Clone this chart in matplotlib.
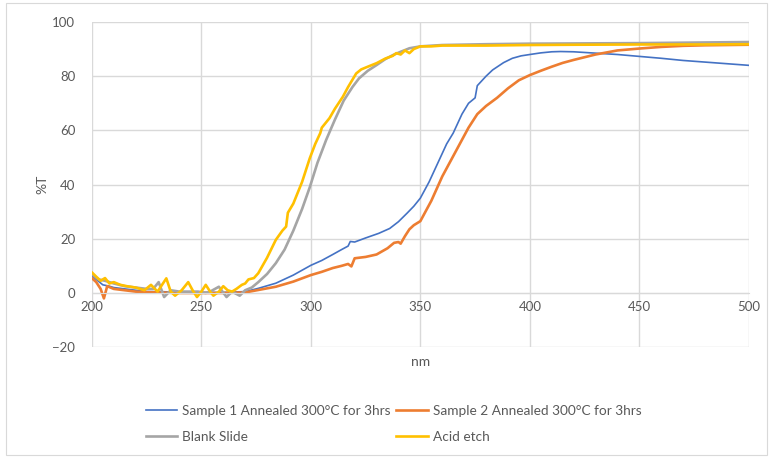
import matplotlib
matplotlib.use("Agg")
import matplotlib.pyplot as plt
from matplotlib.patches import Rectangle

plt.rcParams['font.family'] = ['Lato', 'DejaVu Sans']

# --- data ---
s1_nm = [200, 202, 205, 208, 210, 215, 220, 225, 230, 240, 250, 260, 270, 276, 284, 292,
         300, 305, 310, 314, 317, 318, 320, 325, 331, 336, 340, 344, 347, 350, 354, 358,
         362, 365, 369, 372, 375, 376, 380, 383, 388, 392, 396, 400, 405, 410, 414, 420,
         430, 440, 450, 460, 470, 480, 490, 500]
s1_t = [6.5, 5, 3, 2.5, 2, 1.5, 1, 0.5, 0.5, 0.3, 0.2, 0.2, 0.5, 1.7, 3.6, 6.6,
        10.2, 12, 14.2, 16, 17.3, 19, 18.8, 20.3, 22, 23.8, 26.3, 29.5, 32, 35, 41, 48,
        55, 59, 66, 70, 72, 76.5, 80, 82.3, 85, 86.6, 87.5, 88, 88.6, 89, 89.1, 89,
        88.5, 88, 87.3, 86.6, 85.8, 85.2, 84.6, 84]

s2_nm = [200, 202, 204, 205.5, 207, 210, 215, 220, 225, 230, 240, 250, 260, 270, 276, 284,
         292, 300, 305, 310, 314, 317, 318.5, 320, 325, 330, 335, 338, 340, 341, 343, 345,
         347, 350, 355, 360, 364, 368, 372, 376, 380, 385, 390, 395, 400, 405, 410, 415,
         420, 430, 440, 450, 460, 470, 480, 490, 500]
s2_t = [5.5, 4, 1.5, -2, 2.5, 1.5, 1, 0.5, 0.3, 0.2, 0, 0, 0, 0.2, 1.1, 2.3,
        4.2, 6.6, 7.8, 9.2, 10, 10.7, 9.8, 12.8, 13.3, 14.2, 16.5, 18.5, 18.8, 18.2, 21, 23.5,
        25, 26.5, 34, 43, 49, 55, 61, 66, 69, 72, 75.5, 78.5, 80.4, 82, 83.5, 84.9,
        86, 88, 89.5, 90.2, 90.8, 91.2, 91.4, 91.5, 91.6]

blank_nm = [200, 203, 206, 210, 215, 220, 225, 228, 230.5, 233, 236, 240, 245, 248.5, 252, 254,
            258, 261.5, 264, 267.5, 270, 273, 276, 280, 284, 288, 292, 296, 299.5, 303, 307, 311,
            315, 319, 322, 326, 330, 334, 337.5, 341, 345, 350, 360, 380, 400, 450, 500]
blank_t = [7, 5, 4.5, 3.5, 2.5, 2, 1.5, 1.5, 4, -1.5, 1, 0.5, 0.5, 0.5, 0, 0.5,
           2.3, -1.5, 0.5, -1, 1, 2, 4, 7, 11, 16, 23, 31, 39, 48, 56.5, 64,
           71, 76, 79.2, 82, 84.1, 86.3, 87.8, 89, 90.3, 91, 91.5, 91.8, 92, 92.2, 92.6]

acid_nm = [200, 202, 204, 206, 208, 210, 213, 216, 220, 224, 227, 230, 234, 236, 238, 241,
           244, 246, 248, 250, 252, 254, 255.5, 258, 260, 262, 264, 266, 268.5, 270, 271.5, 274,
           276, 280, 284, 287, 288.7, 289.5, 292, 296, 299.5, 302, 304.3, 305, 308.5, 311,
           314.6, 317, 320.7, 323, 326, 330, 334, 337.4, 339, 341, 343, 345, 347, 350,
           355, 360, 370, 380, 400, 420, 450, 480, 500]
acid_t = [7.6, 6, 4.5, 5.5, 3.5, 4, 3, 2.5, 2, 1, 3, 0.5, 5.4, 0.5, -1, 1,
          4, 1, -1.5, 0.5, 3, 0.5, -1, 0.5, 2.5, 1, 0.5, 1.5, 3, 3.5, 5, 5.5,
          7.3, 13, 19.6, 23, 24.5, 29.6, 33, 41, 49.7, 55, 59, 61, 64.5, 68,
          72.4, 76, 81, 82.5, 83.5, 84.8, 86.5, 87.5, 88.5, 88, 89.5, 88.5, 90, 91,
          91, 91.3, 91.3, 91.3, 91.5, 91.6, 91.7, 91.7, 91.8]

x_ticks = [200, 250, 300, 350, 400, 450, 500]
y_ticks = [-20, 0, 20, 40, 60, 80, 100]

TXT = '#595959'
GRID = '#D9D9D9'

fig = plt.figure(figsize=(7.72, 4.58), dpi=100)
fig.patches.append(Rectangle((0.008, 0.006), 0.986, 0.988, transform=fig.transFigure,
                             fill=False, edgecolor=GRID, linewidth=0.8))
ax = fig.add_axes([0.119, 0.242, 0.851, 0.710])

l1, = ax.plot(s1_nm, s1_t, color='#4472C4', lw=1.2, label='Sample 1 Annealed 300°C for 3hrs')
l2, = ax.plot(s2_nm, s2_t, color='#ED7D31', lw=1.9, label='Sample 2 Annealed 300°C for 3hrs')
l3, = ax.plot(blank_nm, blank_t, color='#A5A5A5', lw=1.9, label='Blank Slide')
l4, = ax.plot(acid_nm, acid_t, color='#FFC000', lw=1.9, label='Acid etch')

ax.set_xlim(200, 500)
ax.set_ylim(-20, 100)
ax.set_xticks(x_ticks)
ax.set_yticks(y_ticks)
ax.grid(True, color=GRID, lw=1.0)
ax.set_axisbelow(True)
for s in ['top', 'right', 'left']:
    ax.spines[s].set_visible(False)
ax.spines['bottom'].set_position(('data', 0))
ax.spines['bottom'].set_color(GRID)
ax.tick_params(length=0, labelsize=9.5, colors=TXT)
ax.tick_params(axis='x', pad=6)
ax.tick_params(axis='y', pad=12)

ax.set_xlabel('nm', fontsize=10, color=TXT, va='center')
ax.xaxis.set_label_coords(0.5, -0.046)
ax.set_ylabel('%T', fontsize=10, color=TXT, va='center')
ax.yaxis.set_label_coords(-0.076, 0.5)

# row-wise order like the original legend
handles = [l1, l3, l2, l4]
fig.legend(handles, [h.get_label() for h in handles], loc='center',
           bbox_to_anchor=(0.51, 0.075), ncol=2, frameon=False, fontsize=9.8,
           labelcolor=TXT, handlelength=2.3, handletextpad=0.4,
           columnspacing=0.4, labelspacing=1.05)

fig.savefig('out.png', dpi=100)
